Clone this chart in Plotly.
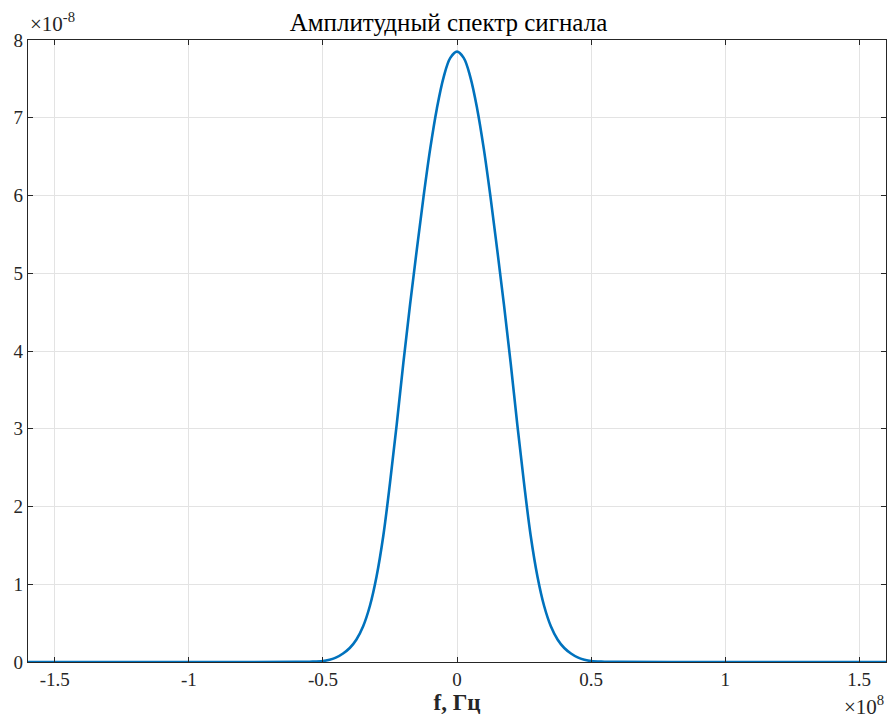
import plotly.graph_objects as go

# Frequency, units of 1e8 Hz
freq = [-1.6, -0.8, -0.6, -0.55, -0.5, -0.475, -0.45, -0.425, -0.4, -0.375, -0.35, -0.325,
        -0.3, -0.275, -0.25, -0.225, -0.2, -0.175, -0.15, -0.125, -0.1, -0.075, -0.05,
        -0.025, 0.0, 0.025, 0.05, 0.075, 0.1, 0.125, 0.15, 0.175, 0.2, 0.225, 0.25,
        0.275, 0.3, 0.325, 0.35, 0.375, 0.4, 0.425, 0.45, 0.475, 0.5, 0.55, 0.6, 0.8, 1.6]
# Amplitude, units of 1e-8
amp = [0.0, 0.0, 0.001, 0.004, 0.012, 0.03, 0.06, 0.11, 0.18, 0.29, 0.46, 0.72,
       1.10, 1.62, 2.30, 3.05, 3.85, 4.6, 5.3, 5.98, 6.6, 7.12, 7.52,
       7.77, 7.85, 7.77, 7.52, 7.12, 6.6, 5.98, 5.3, 4.6, 3.85, 3.05, 2.30,
       1.62, 1.10, 0.72, 0.46, 0.29, 0.18, 0.11, 0.06, 0.03, 0.012, 0.004, 0.001, 0.0, 0.0]

x_tickvals = [-1.5, -1, -0.5, 0, 0.5, 1, 1.5]
x_ticktext = ["-1.5", "-1", "-0.5", "0", "0.5", "1", "1.5"]
y_tickvals = [0, 1, 2, 3, 4, 5, 6, 7, 8]
y_ticktext = ["0", "1", "2", "3", "4", "5", "6", "7", "8"]

FONT = "Liberation Serif, DejaVu Serif, Times New Roman, serif"

fig = go.Figure()
fig.add_trace(go.Scatter(x=freq, y=amp, mode="lines",
                         line=dict(color="#0072BD", width=2.6, shape="spline", smoothing=1.0),
                         showlegend=False, hoverinfo="skip"))

axis_common = dict(showgrid=True, gridcolor="#e3e3e3", gridwidth=1,
                   showline=True, linecolor="#262626", linewidth=1.2, mirror="ticks",
                   ticks="inside", ticklen=5, tickwidth=1, tickcolor="#262626",
                   zeroline=False, automargin=False,
                   tickfont=dict(family=FONT, size=19, color="#262626"))

fig.update_xaxes(range=[-1.6, 1.6], tickvals=x_tickvals, ticktext=x_ticktext,
                 title=dict(text="<b>f, Гц</b>", font=dict(family=FONT, size=23, color="#262626"),
                            standoff=2),
                 **axis_common)
fig.update_yaxes(range=[0, 8], tickvals=y_tickvals, ticktext=y_ticktext, **axis_common)

fig.update_layout(
    width=889, height=718,
    margin=dict(l=28, r=3, t=40, b=56),
    paper_bgcolor="white", plot_bgcolor="white",
    font=dict(family=FONT),
    title=dict(text="Амплитудный спектр сигнала", x=0.5045, xanchor="center",
               y=0.969, yanchor="middle",
               font=dict(family=FONT, size=25, color="#000000")),
    annotations=[
        dict(text="×10<sup>-8</sup>", xref="paper", yref="paper", x=0.0, y=1.0,
             xanchor="left", yanchor="bottom", showarrow=False, yshift=2,
             font=dict(family=FONT, size=21, color="#262626")),
        dict(text="×10<sup>8</sup>", xref="paper", yref="paper", x=1.0, y=0.0,
             xanchor="right", yanchor="top", showarrow=False, yshift=-28,
             font=dict(family=FONT, size=21, color="#262626")),
    ],
)

fig.write_html("out.html", config={"displayModeBar": False},
               post_script="document.body.style.margin='0';document.body.style.padding='0';")
